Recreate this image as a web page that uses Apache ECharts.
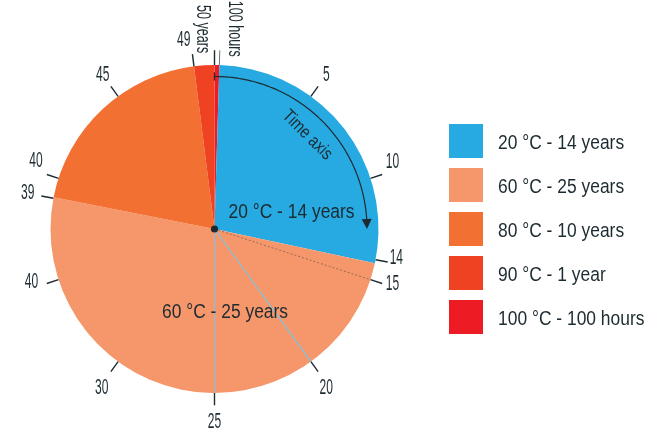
<!DOCTYPE html>
<html>
<head>
<meta charset="utf-8">
<script src="https://cdn.jsdelivr.net/npm/echarts@6/dist/echarts.min.js"></script>
<style>
  html, body { margin: 0; padding: 0; background: #fff; }
  #chart { width: 664px; height: 434px; }
</style>
</head>
<body>
<div id="chart"></div>
<script>
// Service life spent at each temperature, laid out on a 50-year clock face
const sliceNames = ['20 °C - 14 years', '60 °C - 25 years', '80 °C - 10 years', '90 °C - 1 year', '100 °C - 100 hours'];
const sliceYears = [14, 25, 10, 1, 100 / 8760];
const sliceColors = ['#27a9e1', '#f6976b', '#f37033', '#ef4223', '#ed1c24'];

// Time-axis ticks (in years) and the text printed beside each one
const tickYears = [5, 10, 14, 15, 20, 25, 30, 35, 39, 40, 45, 49];
const tickLabels = ['5', '10', '14', '15', '20', '25', '30', '40', '39', '40', '45', '49'];
const endTickYears = 50;
const endTickLabel = '50 years';
const shortSliceLabel = '100 hours';

// Spokes drawn from the hub out to these years
const spokeYears = [15, 20, 25];

// ---- layout & style ----
const CX = 214.5, CY = 229, R = 164;
const YEARS_PER_TURN = 50;
const MIN_SLICE_DEG = 1.7;           // keeps the 100-hour slice visible
const INK = '#1d2b31';
const FONT = "'Liberation Sans', Arial, sans-serif";
const NARROW = 0.56;                 // horizontal squeeze for the axis numbers
const CAPTION_SQUEEZE = 0.85;        // squeeze for captions and legend text

// hand-tuned offsets (px) for crowded axis numbers, keyed by tick year
const labelNudge = {
  10: [-3, -8], 14: [-5, -7], 15: [-3, -4], 20: [0, 5], 25: [0, 3],
  30: [-1, 5], 35: [-2, -6], 40: [2.5, -9], 49: [-7, 0]
};

// legend block
const LEG_X = 449, LEG_Y = 124, LEG_BOX = 34, LEG_STEP = 44, LEG_TEXT_GAP = 15;

// the short 100 h slice sits first (just past 12 o'clock), then the rest clockwise
const drawOrder = [4, 0, 1, 2, 3];
const pieData = drawOrder.map(i => ({
  name: sliceNames[i],
  value: sliceYears[i],
  itemStyle: { color: sliceColors[i] }
}));

const degToYears = d => d / 360 * YEARS_PER_TURN;

function renderOverlay(params, api) {
  const P = (r, y) => api.coord([r, y]);
  const c = P(0, 0);
  const kids = [];
  const line = (a, b, style) => kids.push({
    type: 'line', shape: { x1: a[0], y1: a[1], x2: b[0], y2: b[1] }, style
  });
  const text = (x, y, str, size, extra, styleExtra) => kids.push(Object.assign({
    type: 'text', x, y,
    style: Object.assign({
      text: str, font: size + 'px ' + FONT, fill: INK, align: 'center', verticalAlign: 'middle'
    }, styleExtra || {})
  }, extra || {}));

  // spokes from the hub
  spokeYears.forEach((y, i) => line(c, P(1, y), i === 0
    ? { stroke: INK, lineWidth: 0.7, lineDash: [2, 2], opacity: 0.6 }
    : { stroke: '#78c6ea', lineWidth: 1.1 }));

  // outer ticks and their numbers
  tickYears.forEach((y, i) => {
    line(P(1.0, y), P(1.075, y), { stroke: INK, lineWidth: 1.4 });
    const p = P(1.16, y);
    const n = labelNudge[y] || [0, 0];
    text(p[0] + n[0], p[1] + n[1], tickLabels[i], 21.5, { scaleX: NARROW });
  });

  // 50-year mark at 12 o'clock, label reading downward
  const endTop = P(1.09, endTickYears);
  line(P(1.0, endTickYears), endTop, { stroke: INK, lineWidth: 1.4 });
  text(endTop[0] - 1.5, endTop[1] + 3, endTickLabel, 21,
    { scaleX: 0.6, rotation: -Math.PI / 2 }, { align: 'right', verticalAlign: 'top' });

  // end of the 100-hour slice
  const shortY = degToYears(MIN_SLICE_DEG);
  const shortTop = P(1.09, shortY);
  line(P(1.0, shortY), shortTop, { stroke: '#6b7479', lineWidth: 1 });
  text(shortTop[0] + 4.5, shortTop[1] + 6.5, shortSliceLabel, 21,
    { scaleX: 0.6, rotation: -Math.PI / 2 }, { align: 'right', verticalAlign: 'bottom' });

  // "Time axis" arrow running clockwise from 12 to 3 o'clock
  const rArc = 0.93;
  const tipY = 12.5;
  const headLen = 10, headHalf = 5;
  const headYears = degToYears(headLen / (rArc * R) * 180 / Math.PI);
  const pts = [];
  for (let y = 0; y < tipY - headYears; y += 0.1) pts.push(P(rArc, y));
  pts.push(P(rArc, tipY - headYears));
  kids.push({ type: 'polyline', shape: { points: pts }, style: { stroke: INK, lineWidth: 1.2, fill: null } });
  kids.push({
    type: 'polygon',
    shape: { points: [P(rArc, tipY), P(rArc + headHalf / R, tipY - headYears), P(rArc - headHalf / R, tipY - headYears)] },
    style: { fill: INK }
  });
  line(P(rArc - 0.025, 0), P(rArc + 0.025, 0), { stroke: INK, lineWidth: 1.2 });
  const ta = 6.2;
  const tp = P(0.805, ta);
  text(tp[0], tp[1], 'Time axis', 18, { scaleX: 0.82, rotation: -ta / YEARS_PER_TURN * 2 * Math.PI });

  // slice captions
  text(c[0] + 77, c[1] - 17, sliceNames[0], 20.5, { scaleX: CAPTION_SQUEEZE });
  text(c[0] + 10.5, c[1] + 83, sliceNames[1], 20.5, { scaleX: CAPTION_SQUEEZE });

  // hub
  kids.push({ type: 'circle', shape: { cx: c[0], cy: c[1], r: 3.6 }, style: { fill: INK } });

  // legend: one swatch and name per slice
  sliceNames.forEach((name, i) => {
    const top = LEG_Y + i * LEG_STEP;
    kids.push({ type: 'rect', shape: { x: LEG_X, y: top, width: LEG_BOX, height: LEG_BOX }, style: { fill: sliceColors[i] } });
    text(LEG_X + LEG_BOX + LEG_TEXT_GAP, top + LEG_BOX / 2 + 2, name, 20.5,
      { scaleX: CAPTION_SQUEEZE }, { align: 'left' });
  });

  return { type: 'group', children: kids };
}

const chart = echarts.init(document.getElementById('chart'), null, { renderer: 'canvas' });
chart.setOption({
  animation: false,
  backgroundColor: '#fff',
  polar: { center: [CX, CY], radius: R },
  angleAxis: { type: 'value', min: 0, max: YEARS_PER_TURN, startAngle: 90, clockwise: true, show: false },
  radiusAxis: { type: 'value', min: 0, max: 1, show: false },
  series: [
    {
      type: 'pie',
      z: 2,
      center: [CX, CY],
      radius: R,
      startAngle: 90,
      clockwise: true,
      minAngle: MIN_SLICE_DEG,
      avoidLabelOverlap: false,
      silent: true,
      label: { show: false },
      labelLine: { show: false },
      itemStyle: { borderWidth: 0 },
      emphasis: { disabled: true },
      data: pieData
    },
    {
      type: 'custom',
      z: 5,
      coordinateSystem: 'polar',
      silent: true,
      clip: false,
      data: [[0, 0]],
      renderItem: renderOverlay
    }
  ]
});
</script>
</body>
</html>
